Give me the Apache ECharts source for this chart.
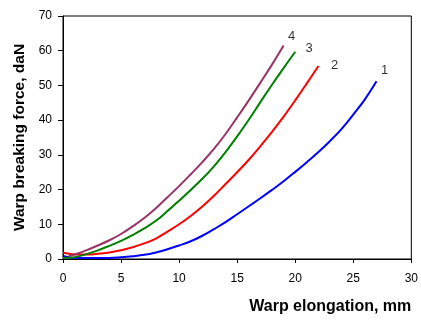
<!DOCTYPE html>
<html>
<head>
<meta charset="utf-8">
<script src="https://cdn.jsdelivr.net/npm/echarts@6/dist/echarts.min.js"></script>
<style>
  html, body { margin: 0; padding: 0; background: #fff; }
  #chart { width: 421px; height: 322px; }
</style>
</head>
<body>
<div id="chart"></div>
<script>
// Load–elongation curves for four warp samples
const curve1 = [[0,0.9],[0.5,0.5],[1,0.3],[2,0.3],[3,0.3],[4,0.3],[5,0.5],[6,0.8],[7,1.2],[8,1.9],[9,2.8],[10,3.9],[11,5.1],[12,6.7],[13,8.6],[14,10.6],[15,12.9],[16,15.2],[17,17.5],[18,19.9],[19,22.4],[20,25.1],[21,27.9],[22,30.8],[23,34.0],[24,37.5],[25,41.6],[26,46.0],[27,51.2]];
const curve2 = [[0,1.8],[0.5,1.5],[1,1.3],[2,1.3],[3,1.5],[4,1.9],[5,2.5],[6,3.4],[7,4.5],[8,5.9],[9,7.9],[10,10.0],[11,12.4],[12,15.1],[13,18.2],[14,21.6],[15,25.0],[16,28.6],[17,32.5],[18,36.6],[19,41.0],[20,45.7],[21,50.6],[22,55.6]];
const curve3 = [[0,0.3],[1,0.5],[2,1.4],[3,2.5],[4,3.8],[5,5.2],[6,6.9],[7,8.8],[8,11.0],[9,13.8],[10,16.8],[11,19.9],[12,23.1],[13,26.7],[14,30.8],[15,35.3],[16,40.1],[17,45.2],[18,50.2],[19,55.0],[20,59.7]];
const curve4 = [[0.5,0.8],[1,1.3],[2,2.5],[3,3.9],[4,5.4],[5,7.2],[6,9.4],[7,11.8],[8,14.6],[9,17.8],[10,21.0],[11,24.4],[12,27.9],[13,31.7],[14,36.0],[15,40.8],[16,45.7],[17,50.8],[18,56.0],[19,61.5]];

const curveNames = ['1', '2', '3', '4'];
const curveColors = ['#0000ff', '#ff0000', '#008000', '#993366'];
const labelPositions = [[27.7, 54.3], [23.4, 55.8], [21.2, 60.6], [19.7, 64.0]];

const xTicks = { min: 0, max: 30, interval: 5 };
const yTicks = { min: 0, max: 70, interval: 10 };

const font = 'Liberation Sans, Arial, sans-serif';
const chart = echarts.init(document.getElementById('chart'), null, { renderer: 'canvas' });

const curves = [curve1, curve2, curve3, curve4];
const series = curves.map((d, i) => ({
  name: curveNames[i],
  type: 'line',
  data: d,
  smooth: 0.4,
  showSymbol: false,
  lineStyle: { color: curveColors[i], width: 2 },
  animation: false
}));

// Curve numbers placed next to the end of each line
series.push({
  type: 'scatter',
  data: labelPositions.map((p, i) => ({ value: p, name: curveNames[i] })),
  symbolSize: 0,
  silent: true,
  animation: false,
  label: {
    show: true,
    position: 'inside',
    formatter: p => p.name,
    color: '#000',
    fontFamily: font,
    fontSize: 13
  }
});

chart.setOption({
  backgroundColor: '#fff',
  grid: {
    left: 63, right: 7, top: 16, bottom: 63,
    show: true, borderColor: '#000', borderWidth: 1
  },
  xAxis: {
    type: 'value',
    min: xTicks.min, max: xTicks.max, interval: xTicks.interval,
    name: 'Warp elongation, mm',
    nameLocation: 'end',
    nameGap: 0,
    nameTextStyle: {
      align: 'right', verticalAlign: 'top',
      padding: [40, 0, 0, 0],
      fontFamily: font, fontSize: 16, fontWeight: 'bold', color: '#000'
    },
    axisLine: { lineStyle: { color: '#000', width: 1 } },
    axisTick: { show: true, length: 4, lineStyle: { color: '#000' } },
    axisLabel: { margin: 14, color: '#000', fontFamily: font, fontSize: 12 },
    splitLine: { show: false }
  },
  yAxis: {
    type: 'value',
    min: yTicks.min, max: yTicks.max, interval: yTicks.interval,
    name: 'Warp breaking force, daN',
    nameLocation: 'middle',
    nameGap: 35,
    nameTextStyle: { fontFamily: font, fontSize: 15.5, fontWeight: 'bold', color: '#000' },
    axisLine: { lineStyle: { color: '#000', width: 1 } },
    axisTick: { show: true, length: 5, lineStyle: { color: '#000' } },
    axisLabel: { margin: 11, color: '#000', fontFamily: font, fontSize: 12 },
    splitLine: { show: false }
  },
  series: series
});
</script>
</body>
</html>
